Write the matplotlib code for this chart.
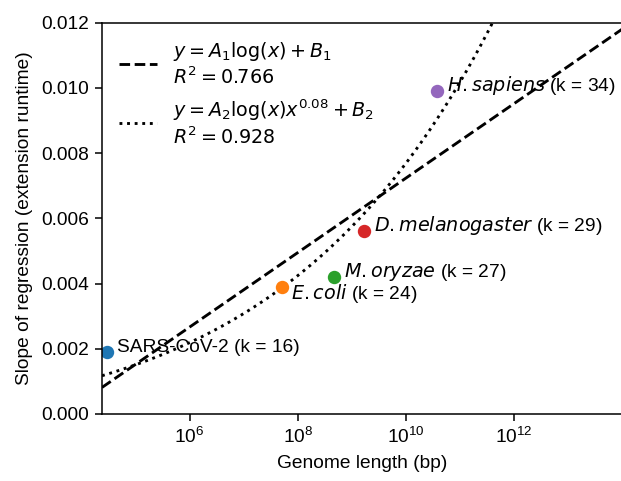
import numpy as np
import matplotlib
matplotlib.use("Agg")
import matplotlib.pyplot as plt

plt.rcParams['font.family'] = ['Liberation Sans', 'DejaVu Sans']
plt.rcParams['mathtext.fontset'] = 'dejavusans'

# genome lengths (bp) and regression slopes
names = [r"SARS-CoV-2", r"$E. coli$", r"$M. oryzae$", r"$D. melanogaster$", r"$H. sapiens$"]
kmers = [16, 24, 27, 29, 34]
genome_len = [2.99e4, 5.1e7, 4.7e8, 1.7e9, 3.8e10]
slope = [0.0019, 0.0039, 0.0042, 0.0056, 0.0099]
label_dy = [0, -0.00037, 0, 0, 0]

xmin, xmax = 10**4.38, 1e14

x = np.array(genome_len)
y = np.array(slope)

# fit 1: y = A1 log(x) + B1
A1, B1 = np.polyfit(np.log(x), y, 1)
# fit 2: y = A2 log(x) x^0.08 + B2
A2, B2 = np.polyfit(np.log(x) * x**0.08, y, 1)

xs = np.logspace(np.log10(xmin), np.log10(xmax), 500)

dpi = 137.5
fig = plt.figure(figsize=(621/dpi, 481/dpi), dpi=dpi)
ax = fig.add_axes([102/621, 67/481, 520/621, 391.3/481])

ax.plot(xs, A1*np.log(xs) + B1, 'k--',
        label="$y = A_1\\log(x) + B_1$\n$R^2 = 0.766$")
ax.plot(xs, A2*np.log(xs)*xs**0.08 + B2, 'k:',
        label="$y = A_2\\log(x)x^{0.08} + B_2$\n$R^2 = 0.928$")

for i in range(len(names)):
    ax.plot(x[i], y[i], 'o', color='C%d' % i)
    ax.text(x[i]*1.5, y[i] + label_dy[i], "%s (k = %d)" % (names[i], kmers[i]))

ax.set_xscale('log')
ax.set_xlim(xmin, xmax)
ax.set_ylim(0, 0.012)
ax.set_yticks(np.arange(0, 0.0121, 0.002))
ax.set_xticks([1e6, 1e8, 1e10, 1e12])
ax.xaxis.set_minor_locator(matplotlib.ticker.NullLocator())
ax.yaxis.set_major_formatter(matplotlib.ticker.FormatStrFormatter('%.3f'))
ax.set_xlabel("Genome length (bp)")
ax.set_ylabel("Slope of regression (extension runtime)")
ax.legend(loc='upper left', frameon=False)

fig.savefig("out.png", dpi=dpi)
